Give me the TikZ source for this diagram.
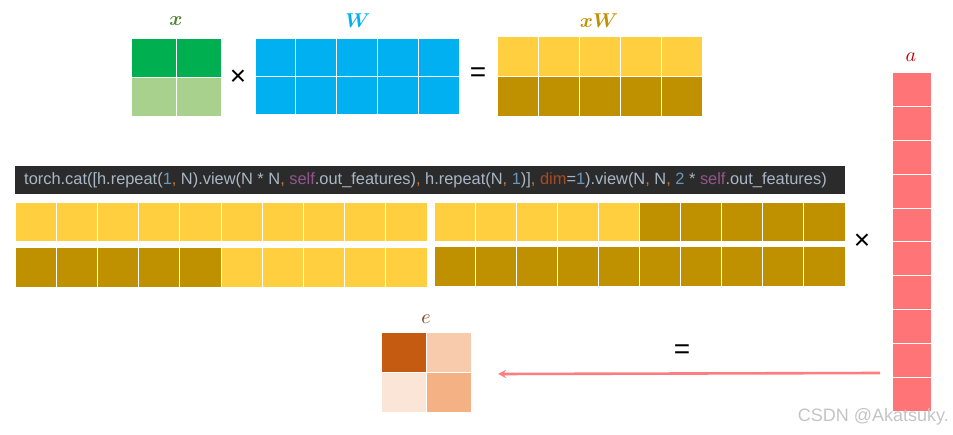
\documentclass[tikz,border=0pt]{standalone}
\usepackage{amsmath}
\usepackage{bm}
\usepackage{graphicx}
\usepackage{fontspec}
\newfontfamily\codefont{Liberation Sans}
\usetikzlibrary{arrows.meta}
\definecolor{xgA}{HTML}{00B050}
\definecolor{xgB}{HTML}{A9D18E}
\definecolor{wblue}{HTML}{00B0F0}
\definecolor{yl}{HTML}{FFCF3F}
\definecolor{dk}{HTML}{BF9000}
\definecolor{ared}{HTML}{FF7577}
\definecolor{alab}{HTML}{C00000}
\definecolor{xlab}{HTML}{548235}
\definecolor{eA}{HTML}{C55A11}
\definecolor{eB}{HTML}{F8CBAD}
\definecolor{eC}{HTML}{FBE5D6}
\definecolor{eD}{HTML}{F4B183}
\definecolor{elab}{HTML}{843C0C}
\definecolor{codebg}{HTML}{2B2B2B}
\definecolor{codefg}{HTML}{A9B7C6}
\definecolor{cnum}{HTML}{6897BB}
\definecolor{ccom}{HTML}{CC7832}
\definecolor{cself}{HTML}{94558D}
\definecolor{cdim}{HTML}{AA4926}
\definecolor{arr}{HTML}{FF7C80}
\definecolor{wm}{HTML}{C4C4C4}
\tikzset{
  cell/.style={draw=white, line width=1pt, inner sep=0pt, outer sep=0pt, anchor=north west},
  lab/.style={inner sep=0pt},
  op/.style={inner sep=0pt, font=\codefont\fontsize{28}{30}\selectfont},
}
\newcommand\lb[1]{\scalebox{2.0}{$#1$}}
\newcommand\cc[1]{\textcolor{ccom}{#1}}
\newcommand\cn[1]{\textcolor{cnum}{#1}}
\newcommand\cs{\textcolor{cself}{self}}
\begin{document}
\begin{tikzpicture}[x=1pt,y=-1pt]
\useasboundingbox (0,0) rectangle (953,435);
% x
\foreach \j in {0,1} {
  \node[cell, fill=xgA, minimum width=45pt, minimum height=39pt] (x-1-\j) at ({131+45*\j},39) {};
  \node[cell, fill=xgB, minimum width=45pt, minimum height=39pt] (x-2-\j) at ({131+45*\j},78) {};
}
\node[lab, text=xlab] (xl) at (176,21) {\lb{\bm{x}}};
\node[op] (times1) at (238,78) {×};
% W
\foreach \j in {0,...,4} {
  \node[cell, fill=wblue, minimum width=40.8pt, minimum height=38pt] (w-1-\j) at ({255+40.8*\j},39) {};
  \node[cell, fill=wblue, minimum width=40.8pt, minimum height=38pt] (w-2-\j) at ({255+40.8*\j},77) {};
}
\node[lab, text=wblue] (wl) at (358,21) {\lb{\bm{W}}};
\node[op] (eq1) at (478,75) {=};
% xW
\foreach \j in {0,...,4} {
  \node[cell, fill=yl, minimum width=41pt, minimum height=40pt] (xw-1-\j) at ({497+41*\j},37) {};
  \node[cell, fill=dk, minimum width=41pt, minimum height=40pt] (xw-2-\j) at ({497+41*\j},77) {};
}
\node[lab, text=dk] (xwl) at (599,21) {\lb{\bm{xW}}};
% code bar
\node[fill=codebg, anchor=north west, minimum width=830pt, minimum height=28pt, inner sep=0pt] (code) at (15,166) {};
\node[anchor=west, inner sep=0pt, text=codefg, font=\codefont\fontsize{16.4}{18}\selectfont] (codet) at (24,180.5)
 {torch.cat([h.repeat(\cn{1}\cc{,} N).view(N * N\cc{,} \cs.out\_features)\cc{,} h.repeat(N\cc{,} \cn{1})]\cc{,} \textcolor{cdim}{dim}=\cn{1}).view(N\cc{,} N\cc{,} \cn{2} * \cs.out\_features)};
% left block
\foreach \j in {0,...,9} {
  \node[cell, fill=yl, minimum width=41.2pt, minimum height=39pt] (l-1-\j) at ({15+41.2*\j},203) {};
}
\foreach \j in {0,...,4} {
  \node[cell, fill=dk, minimum width=41.2pt, minimum height=40pt] (l-2-\j) at ({15+41.2*\j},248) {};
}
\foreach \j in {5,...,9} {
  \node[cell, fill=yl, minimum width=41.2pt, minimum height=40pt] (l-2-\j) at ({15+41.2*\j},248) {};
}
% right block
\foreach \j in {0,...,4} {
  \node[cell, fill=yl, minimum width=41.1pt, minimum height=39pt] (r-1-\j) at ({434+41.1*\j},203) {};
}
\foreach \j in {5,...,9} {
  \node[cell, fill=dk, minimum width=41.1pt, minimum height=39pt] (r-1-\j) at ({434+41.1*\j},203) {};
}
\foreach \j in {0,...,9} {
  \node[cell, fill=dk, minimum width=41.1pt, minimum height=40pt] (r-2-\j) at ({434+41.1*\j},247) {};
}
\node[op] (times2) at (862,242) {×};
% a column
\foreach \i in {0,...,9} {
  \node[cell, fill=ared, minimum width=39pt, minimum height=33.8pt] (a-\i) at (892,{73+33.8*\i}) {};
}
\node[lab, text=alab] (al) at (911,57) {\lb{a}};
% e
\node[cell, fill=eA, minimum width=45pt, minimum height=39.5pt] (e-1-0) at (381,333) {};
\node[cell, fill=eB, minimum width=45pt, minimum height=39.5pt] (e-1-1) at (426,333) {};
\node[cell, fill=eC, minimum width=45pt, minimum height=39.5pt] (e-2-0) at (381,372.5) {};
\node[cell, fill=eD, minimum width=45pt, minimum height=39.5pt] (e-2-1) at (426,372.5) {};
\node[lab, text=elab] (el) at (426,319) {\lb{e}};
\node[op] (eq2) at (682,352) {=};
% arrow
\coordinate (arrS) at (880,373);
\coordinate (arrE) at (498,374);
\draw[arr, line width=2.6pt, -{Stealth[length=8pt, width=8pt]}] (arrS) -- (arrE);
% watermark
\node[anchor=east, inner sep=0pt, text=wm, font=\codefont\fontsize{18}{20}\selectfont] (wmk) at (949,417) {CSDN @Akatsuky.};
\end{tikzpicture}
\end{document}
